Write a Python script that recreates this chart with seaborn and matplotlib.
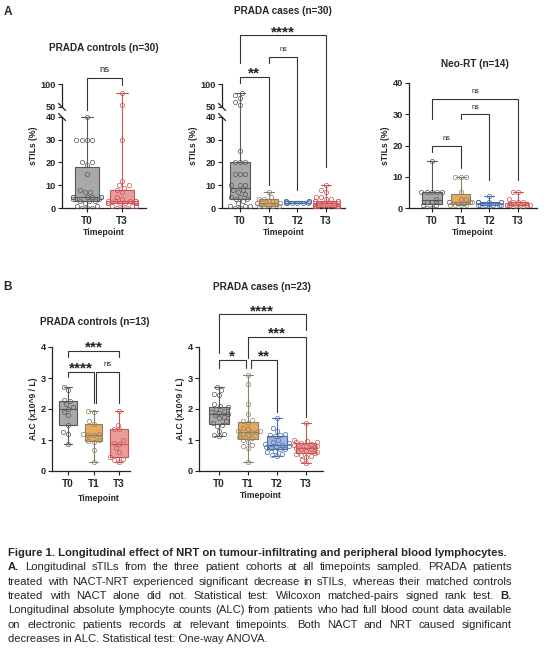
import numpy as np
import pandas as pd
import seaborn as sns
import matplotlib.pyplot as plt

W, H = 558, 650

order4 = ["T0", "T1", "T2", "T3"]
fills = {"T0": "#a8a8a8", "T1": "#e8a95c", "T2": "#9fb7dc", "T3": "#e89c9c"}
edges = {"T0": "#575757", "T1": "#8c8068", "T2": "#4a6eaa", "T3": "#cc5454"}

# panel A: sTILs (%)
ctrl30_t0 = [40, 30, 30, 30, 30, 20, 20, 19, 15, 8, 7, 7, 5, 5, 5, 5, 5, 5, 4, 4, 4, 3, 3, 3, 2, 1, 1, 0, 0, 0]
ctrl30_t3 = [80, 55, 30, 12, 10, 10, 9, 8, 7, 5, 4, 3, 3, 3, 3, 3, 2, 2, 2, 2, 2, 2, 2, 2, 1, 1, 1, 0, 0, 0]

cases30_t0 = [80, 75, 70, 60, 55, 25, 20, 20, 20, 15, 15, 15, 10, 10, 10, 8, 8, 7, 6, 5, 5, 4, 4, 3, 2, 1, 1, 1, 0, 0]
cases30_t1 = [7, 5, 4, 4, 3, 3, 2, 2, 2, 1, 1, 1, 1, 0]
cases30_t2 = [3, 3, 3, 3, 2.5, 2.5, 2, 2, 2, 2, 2, 2]
cases30_t3 = [10, 8, 7, 5, 5, 4, 4, 3, 3, 3, 3, 2, 2, 2, 2, 2, 2, 1, 1, 1, 1, 1, 0, 0, 0, 0, 0, 0, 0, 0]

neo_t0 = [15, 5, 5, 5, 5, 5, 3, 2, 2, 2, 1, 1, 0, 0]
neo_t1 = [10, 10, 10, 5, 3, 3, 2, 2, 2, 2, 1, 1, 1, 1]
neo_t2 = [4, 2, 2, 2, 2, 2, 2, 1, 1, 1, 1, 1, 1, 0]
neo_t3 = [5, 5, 3, 2, 2, 2, 1, 1, 1, 1, 1, 0, 0, 0]

# panel B: ALC (x10^9 / L)
ctrl13_t0 = [2.7, 2.6, 2.3, 2.25, 2.15, 2.05, 2.0, 1.9, 1.8, 1.5, 1.25, 1.2, 0.88]
ctrl13_t1 = [1.92, 1.9, 1.6, 1.52, 1.2, 1.18, 1.17, 1.15, 1.0, 0.98, 0.95, 0.68, 0.28]
ctrl13_t3 = [1.92, 1.5, 1.35, 1.34, 1.0, 0.9, 0.87, 0.75, 0.62, 0.45, 0.4, 0.35, 0.3]

cases23_t0 = [2.7, 2.6, 2.5, 2.45, 2.15, 2.1, 2.05, 2.0, 1.95, 1.9, 1.88, 1.85, 1.8, 1.75, 1.7, 1.6, 1.55,
              1.5, 1.45, 1.3, 1.2, 1.15, 1.13]
cases23_t1 = [3.1, 2.8, 2.15, 1.85, 1.65, 1.6, 1.55, 1.4, 1.35, 1.3, 1.28, 1.27, 1.25, 1.2, 1.15, 1.1, 1.05,
              1.0, 0.95, 0.85, 0.8, 0.75, 0.3]
cases23_t2 = [1.7, 1.4, 1.3, 1.2, 1.15, 1.15, 1.12, 1.0, 0.95, 0.9, 0.88, 0.85, 0.82, 0.8, 0.78, 0.75, 0.72,
              0.7, 0.65, 0.6, 0.55, 0.52, 0.5]
cases23_t3 = [1.55, 1.0, 0.98, 0.95, 0.93, 0.9, 0.88, 0.85, 0.82, 0.8, 0.78, 0.75, 0.72, 0.7, 0.65, 0.6, 0.58,
              0.55, 0.52, 0.5, 0.45, 0.35, 0.25]

# comparisons: (group a, group b, bar level, leg a end, leg b end, label, x shift a, x shift b)
br_ctrl30 = [("T0", "T3", 113, 47, 98, "ns", 0, 0)]
br_cases30 = [("T0", "T3", 206, 146, 18, "****", 0, 0),
              ("T1", "T2", 159, 146, 8, "ns", 0, 0),
              ("T0", "T1", 115, 102, 10, "**", 0, 0)]
br_neo = [("T0", "T3", 35, 28.4, 9, "ns", 0, 0),
          ("T1", "T2", 30, 28.4, 9, "ns", 0, 0),
          ("T0", "T1", 20, 18, 12.9, "ns", 0, 0)]
br_ctrl13 = [("T0", "T3", 3.87, 3.68, 3.68, "***", 0, 0),
             ("T0", "T1", 3.2, 3.04, 2.19, "****", 0, 0),
             ("T1", "T3", 3.2, 2.19, 2.19, "ns", 0.1, 0)]
br_cases23 = [("T0", "T3", 5.06, 3.8, 4.55, "****", 0, 0),
              ("T1", "T3", 4.32, 3.65, 1.75, "***", 0, 0),
              ("T0", "T1", 3.58, 3.32, 3.32, "*", 0, -0.08),
              ("T1", "T2", 3.58, 3.32, 1.9, "**", 0.1, 0)]

caption_lines = [
    [("Figure 1. Longitudinal effect of NRT on tumour-infiltrating and peripheral blood lymphocytes.", True)],
    [("A.", True), ("Longitudinal sTILs from the three patient cohorts at all timepoints sampled. PRADA patients", False)],
    [("treated with NACT-NRT experienced significant decrease in sTILs, whereas their matched controls", False)],
    [("treated with NACT alone did not. Statistical test: Wilcoxon matched-pairs signed rank test.", False), ("B.", True)],
    [("Longitudinal absolute lymphocyte counts (ALC) from patients who had full blood count data available", False)],
    [("on electronic patients records at relevant timepoints. Both NACT and NRT caused significant", False)],
    [("decreases in ALC. Statistical test: One-way ANOVA.", False)],
]
caption_justify = [False, True, True, True, True, True, False]

sns.set_theme(style="ticks")
plt.rcParams["font.family"] = ["Liberation Sans", "DejaVu Sans"]

# broken axis: 0-40 linear, 40-50 gap, 50-100 compressed
LO, HI, GAP, K = 40.0, 50.0, 4.4, 0.202


def fwd(y):
    y = np.asarray(y, dtype=float)
    return np.where(y <= LO, y, np.where(y <= HI, LO + (y - LO) / (HI - LO) * GAP, LO + GAP + (y - HI) * K))


def inv(u):
    u = np.asarray(u, dtype=float)
    return np.where(u <= LO, u, np.where(u <= LO + GAP, LO + (u - LO) / GAP * (HI - LO), HI + (u - LO - GAP) / K))


fig = plt.figure(figsize=(W / 100, H / 100), dpi=100)


def px_axes(left, top, right, bottom):
    return fig.add_axes([left / W, 1 - bottom / H, (right - left) / W, (bottom - top) / H])


def ftext(x, y, s, **kw):
    kw.setdefault("ha", "center")
    kw.setdefault("va", "center")
    fig.text(x / W, 1 - y / H, s, **kw)


def draw_groups(ax, groups, order):
    for tp, vals in groups.items():
        cat = [tp] * len(vals)
        sns.boxplot(x=cat, y=vals, order=order, ax=ax, width=0.68, whis=(0, 100), color=fills[tp],
                    linecolor=edges[tp], linewidth=0.8, saturation=1, fliersize=0)
        n_before = len(ax.collections)
        sns.swarmplot(x=cat, y=vals, order=order, ax=ax, size=3.1, color=edges[tp], warn_thresh=1)
        for pts in ax.collections[n_before:]:
            pts.set_facecolor((1, 1, 1, 0))
            pts.set_edgecolor(edges[tp])
            pts.set_linewidth(0.5)


def style_axes(ax, order, xlim, ylim, yticks, ylabel, broken=False):
    if broken:
        ax.set_yscale("function", functions=(fwd, inv))
    ax.set_ylim(*ylim)
    ax.set_xlim(*xlim)
    ax.set_yticks(yticks, [str(t) for t in yticks])
    ax.set_xticks(range(len(order)), order)
    ax.tick_params(axis="both", direction="out", length=3, width=0.8, color="#222222", pad=1.5)
    ax.tick_params(axis="y", labelsize=6.6)
    ax.tick_params(axis="x", labelsize=7.2, pad=2.5)
    for lab in ax.get_xticklabels() + ax.get_yticklabels():
        lab.set_fontweight("bold")
    ax.set_xlabel("Timepoint", fontsize=6.2, fontweight="bold", labelpad=2)
    ax.set_ylabel(ylabel, fontsize=6.2, fontweight="bold", labelpad=2)
    ax.spines["top"].set_visible(False)
    ax.spines["right"].set_visible(False)
    for s in ("left", "bottom"):
        ax.spines[s].set_linewidth(0.9)
        ax.spines[s].set_color("#222222")
    ax.set_facecolor("none")
    if broken:
        ax.spines["left"].set_visible(False)
        tr = ax.get_yaxis_transform()
        ax.plot([0, 0], [0, LO], transform=tr, color="#222222", lw=0.9, clip_on=False)
        ax.plot([0, 0], [HI, ylim[1]], transform=tr, color="#222222", lw=0.9, clip_on=False)
        bb = ax.get_window_extent()
        dx, dy = 3.5 / bb.width, 3.5 / bb.height
        for v in (HI, LO):
            yf = ax.transAxes.inverted().transform(ax.transData.transform((0, v)))[1]
            ax.plot([-dx, dx], [yf + dy, yf - dy], transform=ax.transAxes, color="#222222", lw=0.9,
                    clip_on=False)


def draw_brackets(ax, order, brackets, ns_size):
    for a, b, y, ya, yb, label, sa, sb in brackets:
        xa = order.index(a) + sa
        xb = order.index(b) + sb
        ax.plot([xa, xa, xb, xb], [ya, y, y, yb], color="#333333", lw=0.8, clip_on=False,
                solid_joinstyle="miter")
        if label == "ns":
            ax.annotate(label, xy=((xa + xb) / 2, y), xytext=(0, 4.0), textcoords="offset points",
                        ha="center", va="baseline", fontsize=ns_size, color="#222222", annotation_clip=False)
        else:
            ax.annotate(label, xy=((xa + xb) / 2, y), xytext=(0, -0.6), textcoords="offset points",
                        ha="center", va="baseline", fontsize=11, fontweight="bold", color="#222222",
                        annotation_clip=False)


# ---- panel A ----
order_c = ["T0", "T3"]
ax1 = px_axes(62, 84, 146, 208)
draw_groups(ax1, {"T0": ctrl30_t0, "T3": ctrl30_t3}, order_c)
style_axes(ax1, order_c, (-0.714, 1.686), (0, 100), [0, 10, 20, 30, 40, 50, 100], "sTILs (%)", broken=True)
draw_brackets(ax1, order_c, br_ctrl30, 6.8)

ax2 = px_axes(222, 84, 345, 208)
draw_groups(ax2, {"T0": cases30_t0, "T1": cases30_t1, "T2": cases30_t2, "T3": cases30_t3}, order4)
style_axes(ax2, order4, (-0.628, 3.66), (0, 100), [0, 10, 20, 30, 40, 50, 100], "sTILs (%)", broken=True)
draw_brackets(ax2, order4, br_cases30, 5.3)

ax3 = px_axes(409, 83, 537, 208)
draw_groups(ax3, {"T0": neo_t0, "T1": neo_t1, "T2": neo_t2, "T3": neo_t3}, order4)
style_axes(ax3, order4, (-0.80, 3.66), (0, 40), [0, 10, 20, 30, 40], "sTILs (%)")
draw_brackets(ax3, order4, br_neo, 5.3)

# ---- panel B ----
order_b = ["T0", "T1", "T3"]
ax4 = px_axes(52, 347, 130, 471)
draw_groups(ax4, {"T0": ctrl13_t0, "T1": ctrl13_t1, "T3": ctrl13_t3}, order_b)
style_axes(ax4, order_b, (-0.63, 2.43), (0, 4), [0, 1, 2, 3, 4], "ALC (x10^9 / L)")
ax4.xaxis.set_label_coords(0.6, -0.185)
draw_brackets(ax4, order_b, br_ctrl13, 5.7)

ax5 = px_axes(199, 347, 323, 471)
draw_groups(ax5, {"T0": cases23_t0, "T1": cases23_t1, "T2": cases23_t2, "T3": cases23_t3}, order4)
style_axes(ax5, order4, (-0.69, 3.59), (0, 4), [0, 1, 2, 3, 4], "ALC (x10^9 / L)")
draw_brackets(ax5, order4, br_cases23, 5.7)

# titles and panel letters
ftext(8, 12, "A", fontsize=8.5, fontweight="bold")
ftext(8, 287, "B", fontsize=8.5, fontweight="bold")
ftext(104, 48, "PRADA controls (n=30)", fontsize=7.2, fontweight="bold")
ftext(283, 11, "PRADA cases (n=30)", fontsize=7.2, fontweight="bold")
ftext(475, 64, "Neo-RT (n=14)", fontsize=7.2, fontweight="bold")
ftext(95, 322, "PRADA controls (n=13)", fontsize=7.2, fontweight="bold")
ftext(262, 287, "PRADA cases (n=23)", fontsize=7.2, fontweight="bold")

# caption, justified like the source document
renderer = fig.canvas.get_renderer()
x0, x1 = 8, 512
cap_size = 8.1
for i, (segs, just) in enumerate(zip(caption_lines, caption_justify)):
    y = 1 - (553 + 14.3 * i) / H
    if not just:
        fig.text(x0 / W, y, segs[0][0], fontsize=cap_size, fontweight="bold" if segs[0][1] else "normal",
                 va="center", ha="left")
        continue
    words = [(w, bold) for s, bold in segs for w in s.split()]
    texts = [fig.text(0, y, w, fontsize=cap_size, fontweight="bold" if bold else "normal", va="center",
                      ha="left") for w, bold in words]
    widths = [t.get_window_extent(renderer).width for t in texts]
    gap = ((x1 - x0) - sum(widths)) / (len(words) - 1)
    x = x0
    for t, w in zip(texts, widths):
        t.set_x(x / W)
        x += w + gap

fig.savefig("out.png", dpi=100)
